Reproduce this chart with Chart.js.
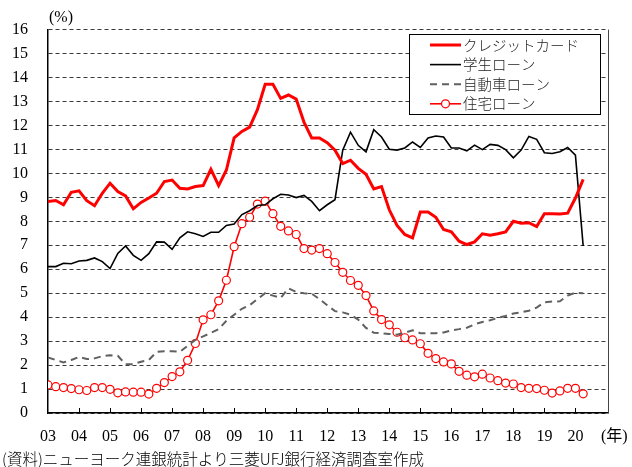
<!DOCTYPE html>
<html>
<head>
<meta charset="utf-8">
<script src="https://cdn.jsdelivr.net/npm/chart.js@4.4.1/dist/chart.umd.min.js"></script>
<style>
body{margin:0;background:#fff;}
</style>
</head>
<body>
<canvas id="delinq_chart" width="632" height="467"></canvas>
<script>
'use strict'

// 四半期データ 2003Q1〜2020Q2
const years = ['03','04','05','06','07','08','09','10','11','12','13','14','15','16','17','18','19','20'];
const quarters = [];
years.forEach(y => [1,2,3,4].forEach(q => quarters.push(`${y}Q${q}`)));
quarters.length = 70;

const credit_card = [8.83,8.87,8.69,9.21,9.27,8.86,8.65,9.17,9.59,9.24,
    9.06,8.52,8.79,8.97,9.17,9.66,9.72,9.38,9.35,9.45,
    9.49,10.17,9.49,10.14,11.48,11.75,11.93,12.66,13.72,13.72,
    13.13,13.27,13.10,12.14,11.48,11.48,11.28,10.97,10.41,10.55,
    10.21,9.96,9.35,9.45,8.48,7.83,7.45,7.31,8.39,8.39,
    8.17,7.66,7.56,7.17,7.03,7.14,7.48,7.42,7.48,7.56,
    8.00,7.92,7.94,7.78,8.32,8.32,8.30,8.34,8.97,9.75];
const student = [6.11,6.11,6.25,6.23,6.34,6.37,6.47,6.32,6.03,6.66,
    6.97,6.58,6.37,6.65,7.14,7.13,6.83,7.31,7.56,7.48,
    7.37,7.54,7.54,7.83,7.89,8.28,8.44,8.66,8.69,8.94,
    9.13,9.10,8.99,9.08,8.83,8.44,8.69,8.90,10.97,11.72,
    11.17,10.90,11.82,11.52,11.01,10.97,11.06,11.31,11.08,11.48,
    11.56,11.52,11.06,11.06,10.94,11.18,10.99,11.21,11.17,10.99,
    10.65,10.97,11.54,11.42,10.86,10.83,10.90,11.08,10.76,6.97];
const auto_loan = [2.32,2.21,2.11,2.21,2.34,2.25,2.28,2.37,2.41,2.39,
    2.03,2.04,2.14,2.21,2.55,2.58,2.58,2.55,2.80,3.05,
    3.20,3.34,3.50,3.85,4.10,4.35,4.50,4.75,5.00,4.90,
    4.80,5.20,5.05,5.00,4.98,4.75,4.50,4.25,4.20,4.10,
    3.90,3.55,3.35,3.33,3.30,3.27,3.35,3.45,3.33,3.33,
    3.33,3.36,3.45,3.50,3.56,3.70,3.80,3.87,3.97,4.05,
    4.15,4.20,4.27,4.40,4.62,4.65,4.66,4.90,5.02,5.00];
const mortgage = [1.17,1.10,1.06,1.02,0.97,0.94,1.06,1.06,0.99,0.84,
    0.88,0.87,0.87,0.79,1.03,1.27,1.52,1.72,2.20,2.90,
    3.89,4.10,4.68,5.54,6.94,7.90,8.17,8.72,8.84,8.32,
    7.79,7.60,7.45,6.86,6.80,6.86,6.65,6.28,5.87,5.53,
    5.33,4.90,4.26,3.90,3.68,3.37,3.14,3.05,2.89,2.49,
    2.27,2.13,2.05,1.74,1.58,1.51,1.62,1.46,1.35,1.25,
    1.21,1.06,1.03,1.02,0.95,0.83,0.92,1.03,1.03,0.80];

const serif = "'Liberation Serif','Noto Sans CJK JP'";
const gothic = "'Noto Sans CJK JP'";

const toPoints = arr => arr.map((v, i) => ({x: i, y: v}));

// 凡例・注記・内向き目盛り
const extras = {
    id: 'extras',
    afterDraw(chart) {
        const ctx = chart.ctx;
        const xs = chart.scales.x;
        const area = chart.chartArea;
        ctx.save();

        // x目盛り（内向き）
        ctx.strokeStyle = '#000';
        ctx.lineWidth = 1;
        ctx.setLineDash([]);
        for (let k = 1; k < years.length; k++) {
            const px = Math.round(xs.getPixelForValue(k * 4)) + 0.5;
            ctx.beginPath();
            ctx.moveTo(px, area.bottom);
            ctx.lineTo(px, area.bottom - 5);
            ctx.stroke();
        }
        // 右枠
        ctx.strokeStyle = '#444';
        ctx.beginPath();
        ctx.moveTo(area.right + 0.5, area.top);
        ctx.lineTo(area.right + 0.5, area.bottom);
        ctx.stroke();

        // 凡例
        ctx.fillStyle = '#fff';
        ctx.fillRect(409.5, 34.5, 191, 80);
        ctx.strokeStyle = '#000';
        ctx.strokeRect(409.5, 34.5, 191, 80);
        ctx.font = `300 14.5px ${gothic}`;
        ctx.textBaseline = 'middle';
        chart.data.datasets.forEach((ds, k) => {
            const y = 45 + k * 19.6;
            ctx.strokeStyle = ds.borderColor;
            ctx.lineWidth = ds.borderWidth;
            ctx.setLineDash(ds.borderDash || []);
            ctx.beginPath();
            ctx.moveTo(430, y);
            ctx.lineTo(461, y);
            ctx.stroke();
            ctx.setLineDash([]);
            if (ds.pointRadius) {
                ctx.beginPath();
                ctx.arc(445.5, y, ds.pointRadius, 0, Math.PI * 2);
                ctx.fillStyle = ds.pointBackgroundColor;
                ctx.fill();
                ctx.lineWidth = ds.pointBorderWidth;
                ctx.stroke();
            }
            ctx.fillStyle = '#222';
            ctx.fillText(ds.label, 463, y);
        });

        // 単位・注記
        ctx.fillStyle = '#000';
        ctx.font = `16px ${serif}`;
        ctx.textBaseline = 'middle';
        ctx.fillText('(%)', 49, 18);
        ctx.fillText('(年)', 601, 437);
        ctx.font = `300 15.5px ${gothic}`;
        ctx.fillText('(資料)ニューヨーク連銀統計より三菱UFJ銀行経済調査室作成', 2, 459);
        ctx.restore();
    }
};

window.onload = (e) => {
    const ctx = document.getElementById('delinq_chart').getContext('2d');
    const chart = new Chart(ctx, {
        type: 'line',
        data: {
            labels: quarters,
            datasets: [{
                label: 'クレジットカード',
                data: toPoints(credit_card),
                borderColor: '#ff0000',
                borderWidth: 3,
                pointRadius: 0
            }, {
                label: '学生ローン',
                data: toPoints(student),
                borderColor: '#000000',
                borderWidth: 1.6,
                pointRadius: 0
            }, {
                label: '自動車ローン',
                data: toPoints(auto_loan),
                borderColor: '#606060',
                borderWidth: 2,
                borderDash: [7, 5],
                pointRadius: 0
            }, {
                label: '住宅ローン',
                data: toPoints(mortgage),
                borderColor: '#ff0000',
                borderWidth: 1.6,
                pointRadius: 4,
                pointBorderWidth: 1.2,
                pointBackgroundColor: '#ffffff',
                pointBorderColor: '#ff0000'
            }]
        },
        options: {
            responsive: false,
            animation: false,
            layout: {padding: {left: 0, right: 24, top: 26, bottom: 0}},
            plugins: {legend: {display: false}, tooltip: {enabled: false}},
            scales: {
                x: {
                    type: 'linear',
                    min: 0,
                    max: 72.2,
                    afterBuildTicks: (scale) => {
                        scale.ticks = years.map((y, i) => ({value: i * 4}));
                    },
                    afterFit: (scale) => { scale.height = 54; },
                    grid: {display: false, drawTicks: false},
                    border: {display: true, color: '#000', width: 1.5},
                    ticks: {
                        autoSkip: false,
                        maxRotation: 0,
                        padding: 14,
                        color: '#000',
                        font: {family: serif, size: 16},
                        callback: (v) => years[Math.round(v / 4)]
                    }
                },
                y: {
                    min: 0,
                    max: 16,
                    afterFit: (scale) => { scale.width = 48; },
                    grid: {color: '#3a3a3a', lineWidth: 1, drawTicks: false},
                    border: {display: true, color: '#000', width: 1.5, dash: [4, 3]},
                    ticks: {
                        stepSize: 1,
                        padding: 20,
                        color: '#000',
                        font: {family: serif, size: 16}
                    }
                }
            }
        },
        plugins: [extras]
    });
}
</script>
</body>
</html>
